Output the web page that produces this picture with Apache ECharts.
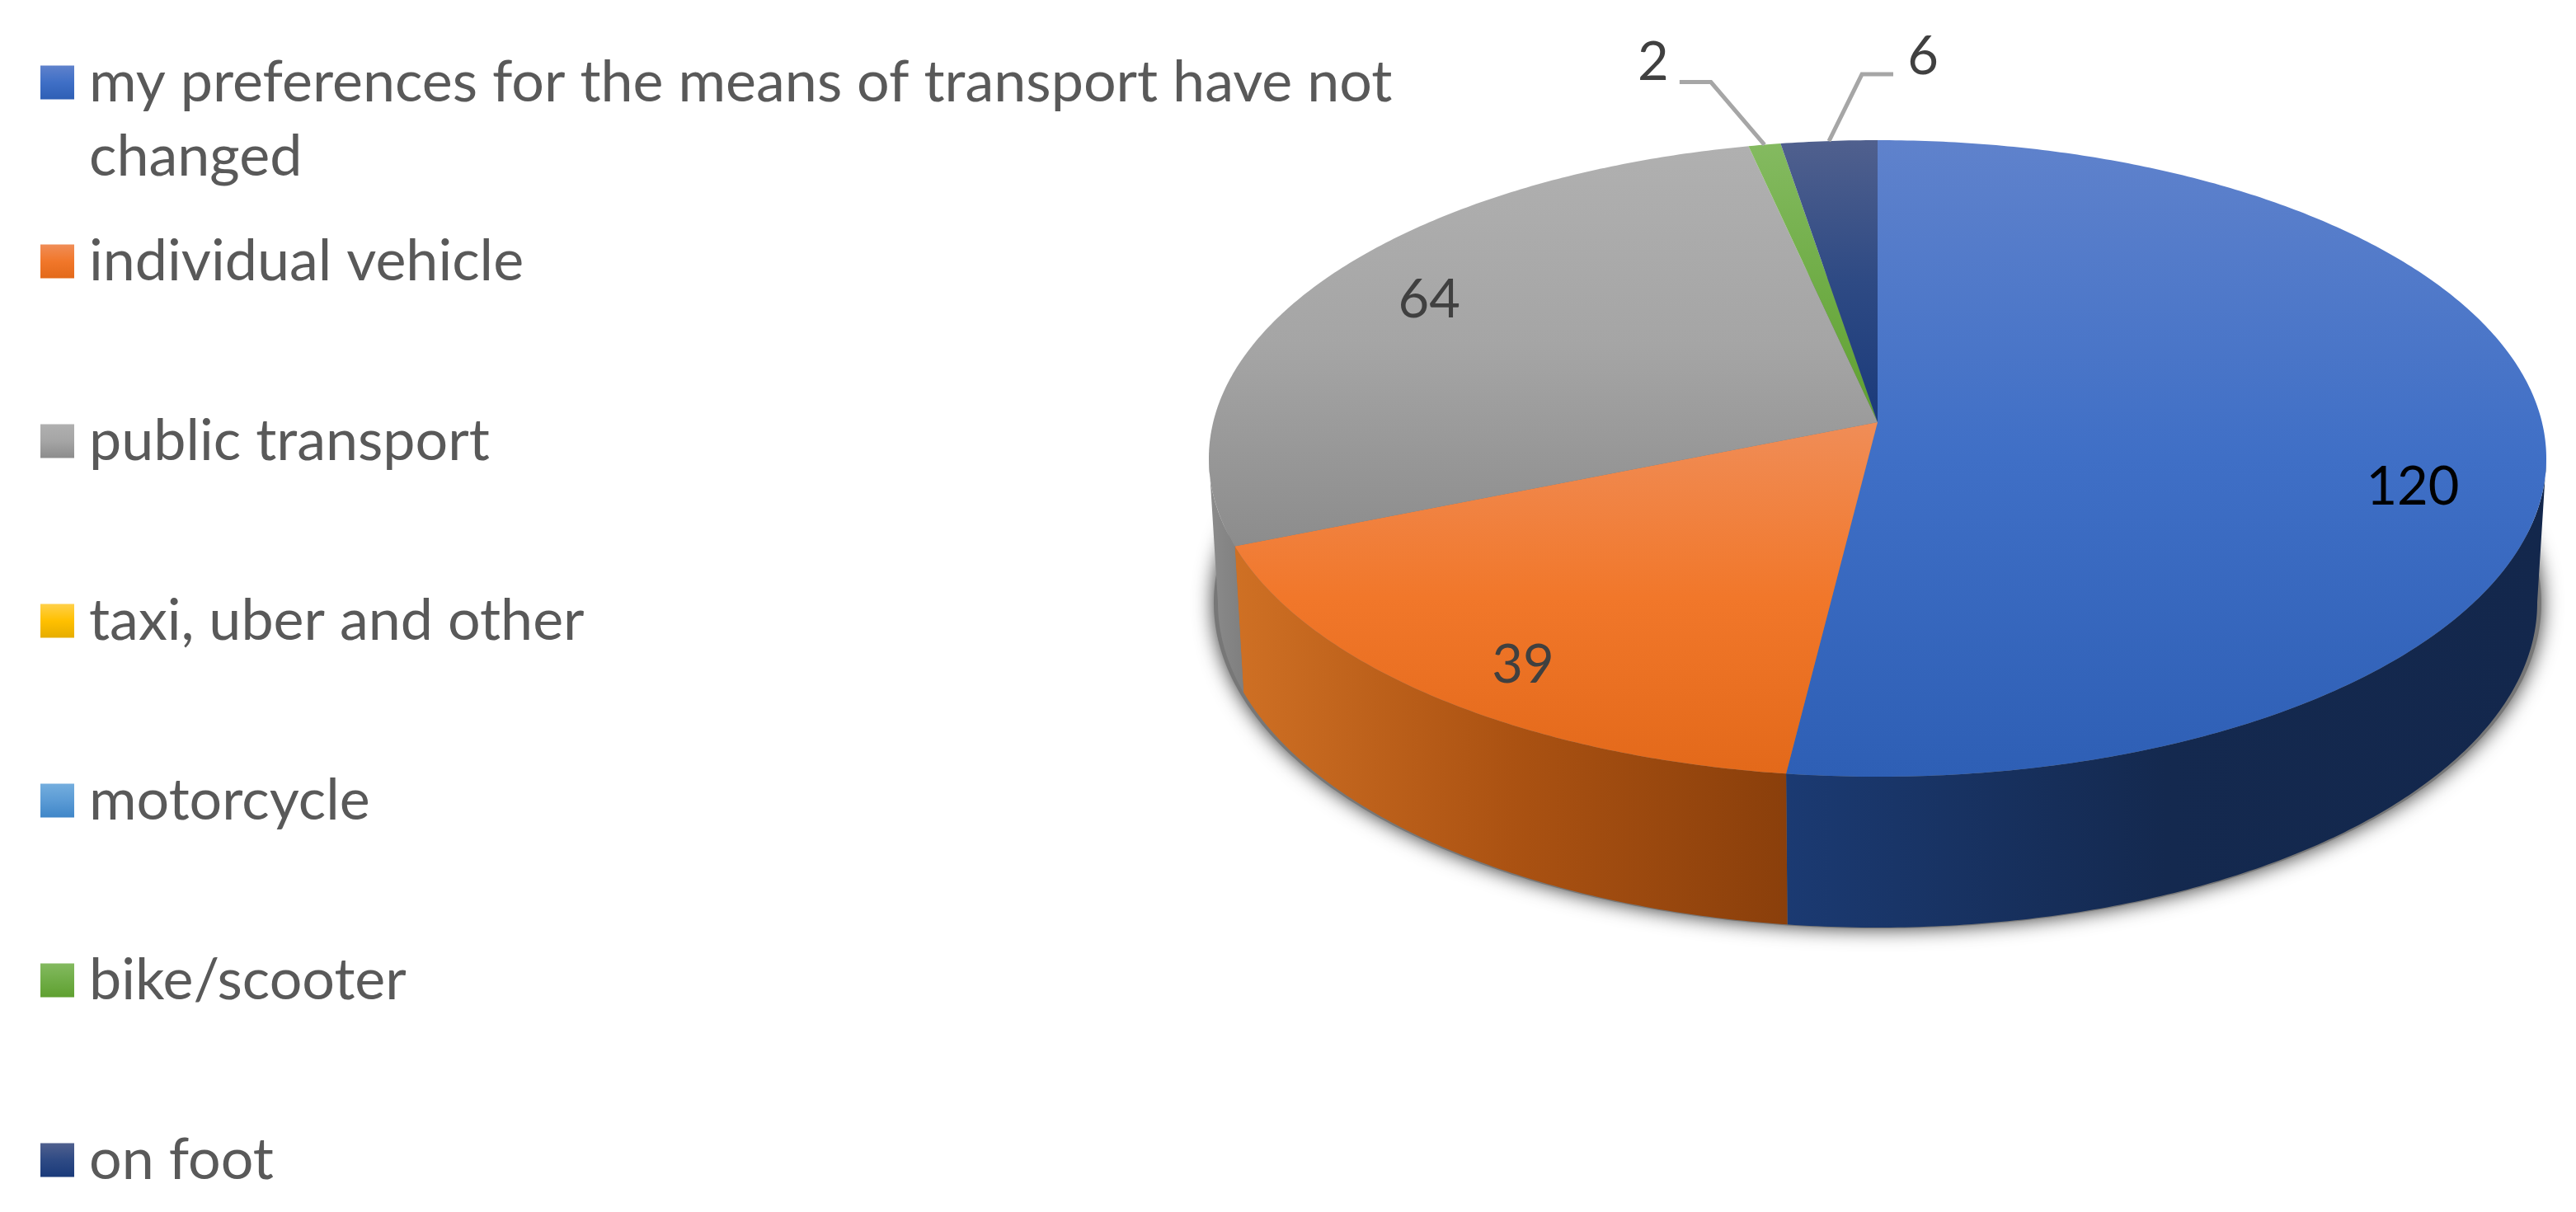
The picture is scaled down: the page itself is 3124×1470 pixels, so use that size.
<!DOCTYPE html>
<html>
<head>
<meta charset="utf-8">
<title>Preferences for the means of transport</title>
<style>
  html, body { margin: 0; padding: 0; background: #fff; }
  #main { width: 3124px; height: 1470px; }
</style>
<script src="https://cdn.jsdelivr.net/npm/echarts@6/dist/echarts.min.js"></script>
</head>
<body>
<div id="main"></div>
<script>
// data
const categories = [
  'my preferences for the means of transport have not changed',
  'individual vehicle',
  'public transport',
  'taxi, uber and other',
  'motorcycle',
  'bike/scooter',
  'on foot'
]
const values = [120, 39, 64, 0, 0, 2, 6]

// top / middle / bottom colours of each slice
const faceColors = [
  ['#5f82cc', '#3f6fc6', '#2e5fb5'],
  ['#f08d57', '#f1772a', '#e3691a'],
  ['#b0b0b0', '#a5a5a5', '#8c8c8c'],
  ['#ffd04a', '#ffc000', '#e6ad00'],
  ['#74aede', '#5b9bd5', '#3f86c8'],
  ['#84ba60', '#70ad47', '#5fa030'],
  ['#50608e', '#2e4a84', '#1a3a7a']
]
// left / middle / right colours of the outer wall
const wallColors = [
  ['#1b3a72', '#14294f', '#13274c'],
  ['#cf7024', '#ab5212', '#8a3f0b'],
  ['#8c8c8c', '#858585', '#7f7f7f'],
  ['#b88a00', '#a07800', '#8a6800'],
  ['#3f78aa', '#356994', '#2c5a82'],
  ['#4f7f30', '#446f29', '#3a5f22'],
  ['#1a3a7a', '#14294f', '#13274c']
]
// small shifts of the labels inside the slices
const labelNudges = [[2, 60], [-8, 34], [4, -12], [0, 0], [0, 0], [0, 0], [0, 0]]
// leader lines for the slices too small to hold their label, relative to the rim
const leaders = {
  5: { elbow: [-65, -76], end: [-103, -76], text: [-135, -100] },
  6: { elbow: [40, -81], end: [78, -81], text: [114, -102] }
}

// the disc, seen in perspective: the apex sits above the centre of the ellipse
const topDisc = { x: 2277, y: 556, a: 811, b: 386 }
const bottomDisc = { x: 2277, y: 731, a: 800, b: 394 }
const apexShift = -44
const labelRadius = 0.8
const labelFont = '65px Lato'

const total = values.reduce((sum, v) => sum + v, 0)
const toAngle = v => v / total * Math.PI * 2

// starting angle of every slice, clockwise from 12 o'clock
const startAngles = []
values.reduce((acc, v, i) => {
  startAngles[i] = acc
  return acc + toAngle(v)
}, 0)

// maps a point of the unit circle (radius r, angle t) on to the ellipse
function project(disc, t, r) {
  const u = Math.sin(t) * r
  const v = -Math.cos(t) * r
  const c = apexShift * disc.b / topDisc.b
  const k = c / disc.b
  const w = 1 + k * v
  return [
    disc.x + disc.a * Math.sqrt(1 - k * k) * u / w,
    disc.y + (disc.b * v + c) / w
  ]
}

function arcPoints(disc, from, to) {
  const steps = Math.max(2, Math.ceil((to - from) / 0.01))
  const pts = []
  for (let i = 0; i <= steps; i++) {
    pts.push(project(disc, from + (to - from) * i / steps, 1))
  }
  return pts
}

function gradient(stops, horizontal) {
  return new echarts.graphic.LinearGradient(0, 0, horizontal ? 1 : 0, horizontal ? 0 : 1,
    stops.map((color, i) => ({ offset: i / (stops.length - 1), color })))
}

// only this part of the rim faces the viewer
const wallFrom = Math.acos(-0.113)
const wallTo = Math.PI * 2 - wallFrom

function renderSlice(index, params, api) {
  const value = api.value(0)
  if (!value) return null
  const from = startAngles[index]
  const to = from + toAngle(value)
  const children = []

  const a = Math.max(from, wallFrom)
  const b = Math.min(to, wallTo)
  if (b > a) {
    children.push({
      type: 'polygon',
      shape: { points: arcPoints(topDisc, a, b).concat(arcPoints(bottomDisc, a, b).reverse()) },
      style: { fill: gradient(wallColors[index], true) }
    })
  }

  children.push({
    type: 'polygon',
    shape: { points: [project(topDisc, 0, 0)].concat(arcPoints(topDisc, from, to)) },
    style: { fill: gradient(faceColors[index]) }
  })

  const mid = (from + to) / 2
  const leader = leaders[index]
  let pos
  if (leader) {
    const rim = project(topDisc, mid, 1)
    const at = p => [rim[0] + p[0], rim[1] + p[1]]
    children.push({
      type: 'polyline',
      shape: { points: [rim, at(leader.elbow), at(leader.end)] },
      style: { stroke: '#a6a6a6', lineWidth: 5, fill: null },
      z2: 5
    })
    pos = at(leader.text)
  } else {
    const p = project(topDisc, mid, labelRadius)
    pos = [p[0] + labelNudges[index][0], p[1] + labelNudges[index][1]]
  }
  children.push({
    type: 'text',
    style: {
      text: String(value),
      x: pos[0],
      y: pos[1],
      align: 'center',
      verticalAlign: 'middle',
      font: labelFont,
      fill: index === 0 ? '#000000' : '#404040'
    },
    z2: 10
  })
  return { type: 'group', children }
}

// soft drop shadow under the disc
function renderShadow() {
  const pts = arcPoints({ x: bottomDisc.x, y: bottomDisc.y, a: bottomDisc.a + 5, b: bottomDisc.b + 1 }, 0, Math.PI * 2)
  return {
    type: 'polygon',
    shape: { points: pts },
    style: { fill: '#777777', shadowBlur: 24, shadowColor: 'rgba(0,0,0,0.8)' }
  }
}

const chartInstance = echarts.init(document.getElementById('main'))

const legendBase = {
  orient: 'vertical',
  left: 49,
  padding: 0,
  icon: 'rect',
  itemWidth: 41,
  itemHeight: 41,
  textStyle: {
    fontFamily: 'Lato',
    fontSize: 70,
    lineHeight: 90,
    color: '#595959',
    padding: [0, 0, 0, 13]
  }
}

const series = [{
  name: 'shadow',
  type: 'custom',
  coordinateSystem: 'none',
  silent: true,
  animation: false,
  data: [[0]],
  renderItem: renderShadow
}]
categories.forEach((name, i) => {
  series.push({
    name,
    type: 'custom',
    coordinateSystem: 'none',
    animation: false,
    itemStyle: { color: gradient(faceColors[i]) },
    data: [[values[i]]],
    renderItem: (params, api) => renderSlice(i, params, api)
  })
})

chartInstance.setOption({
  backgroundColor: '#ffffff',
  animation: false,
  legend: [
    Object.assign({}, legendBase, {
      // the empty first line keeps the square next to the first line of the name
      top: -35,
      data: categories.slice(0, 1),
      selectedMode: false,
      formatter: name => '\n' + name.replace(' changed', '\nchanged')
    }),
    Object.assign({}, legendBase, {
      top: 272,
      itemGap: 128,
      data: categories.slice(1),
      selectedMode: false
    })
  ],
  series
})
</script>
</body>
</html>
